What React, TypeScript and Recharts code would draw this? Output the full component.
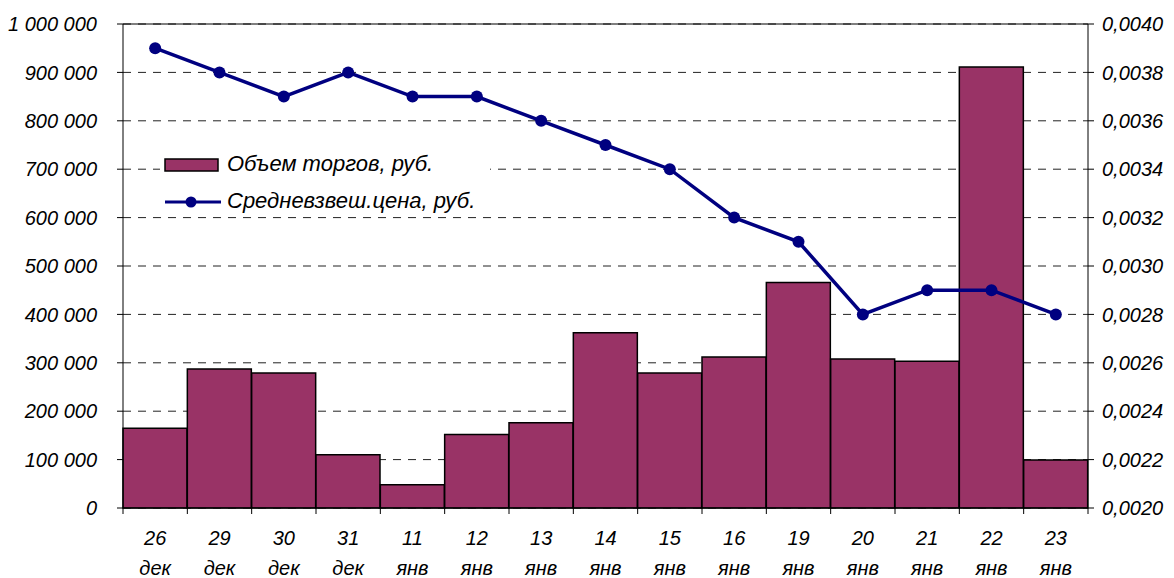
import React from 'react';
import {
  ComposedChart, Bar, Line, XAxis, YAxis, CartesianGrid, Legend, ReferenceLine,
} from 'recharts';

const days = ['26', '29', '30', '31', '11', '12', '13', '14', '15', '16', '19', '20', '21', '22', '23'];
const months = ['дек', 'дек', 'дек', 'дек', 'янв', 'янв', 'янв', 'янв', 'янв', 'янв', 'янв', 'янв', 'янв', 'янв', 'янв'];
const volume = [165000, 287000, 279000, 110000, 48000, 152000, 176000, 362000, 279000, 312000, 466000, 308000, 303000, 911000, 99000];
const price = [0.0039, 0.0038, 0.0037, 0.0038, 0.0037, 0.0037, 0.0036, 0.0035, 0.0034, 0.0032, 0.0031, 0.0028, 0.0029, 0.0029, 0.0028];
const leftTicks = [0, 100000, 200000, 300000, 400000, 500000, 600000, 700000, 800000, 900000, 1000000];
const rightTicks = [0.002, 0.0022, 0.0024, 0.0026, 0.0028, 0.003, 0.0032, 0.0034, 0.0036, 0.0038, 0.004];
const volumeName = 'Объем торгов, руб.';
const priceName = 'Средневзвеш.цена, руб.';

const data = days.map((d, i) => ({ label: d + '|' + months[i], volume: volume[i], price: price[i] }));

const FONT = '"Liberation Sans", Arial, sans-serif';
const FS = 20;
const LFS = 22;
const BAR_COLOR = '#993366';
const LINE_COLOR = '#000080';

const fmtLeft = (v: number) => String(Math.round(v)).replace(/\B(?=(\d{3})+(?!\d))/g, ' ');
const fmtRight = (v: number) => v.toFixed(4).replace('.', ',');

const XTick = (props: any) => {
  const { x, y, payload, index } = props;
  const half = payload && payload.offset ? payload.offset : 32.15;
  const [d, m] = String(payload.value).split('|');
  const last = index === days.length - 1;
  return (
    <g>
      <line x1={x - half} x2={x - half} y1={y - 6} y2={y} stroke="#000" strokeWidth={1} />
      {last && <line x1={x + half} x2={x + half} y1={y - 6} y2={y} stroke="#000" strokeWidth={1} />}
      <text x={x} y={y + 31} textAnchor="middle" fontSize={FS} fontStyle="italic" fontFamily={FONT} fill="#000">{d}</text>
      <text x={x} y={y + 61} textAnchor="middle" fontSize={FS} fontStyle="italic" fontFamily={FONT} fill="#000">{m}</text>
    </g>
  );
};

const renderLegend = () => (
  <div style={{ background: '#fff', width: 330, height: 76, position: 'relative' }}>
    <svg width={330} height={76} style={{ display: 'block' }}>
      <rect x={5} y={19} width={53} height={12} fill={BAR_COLOR} stroke="#000" strokeWidth={1.5} />
      <text x={67} y={31} fontSize={LFS} fontStyle="italic" fontFamily={FONT} fill="#000">{volumeName}</text>
      <line x1={5} x2={61} y1={62} y2={62} stroke={LINE_COLOR} strokeWidth={3} />
      <circle cx={31} cy={62} r={5.5} fill={LINE_COLOR} />
      <text x={67} y={68} fontSize={LFS} fontStyle="italic" fontFamily={FONT} fill="#000">{priceName}</text>
    </svg>
  </div>
);

export default function App() {
  return (
    <div style={{ position: 'absolute', left: 0, top: 0, background: '#fff' }}>
      <ComposedChart
        width={1174}
        height={578}
        data={data}
        margin={{ top: 24, right: 0, left: 0, bottom: 0 }}
        barCategoryGap={0}
      >
        <CartesianGrid yAxisId="left" vertical={false} stroke="#222" strokeDasharray="8 7" />
        <XAxis
          dataKey="label"
          interval={0}
          axisLine={{ stroke: '#000', strokeWidth: 1 }}
          tickLine={false}
          tickSize={6}
          tickMargin={0}
          height={70}
          tick={<XTick />}
        />
        <YAxis
          yAxisId="left"
          orientation="left"
          width={123}
          domain={[0, 1000000]}
          ticks={leftTicks}
          tickFormatter={fmtLeft}
          axisLine={{ stroke: '#000' }}
          tickLine={{ stroke: '#000' }}
          tickSize={6}
          tickMargin={20}
          tick={{ fontSize: FS, fontStyle: 'italic', fontFamily: FONT, fill: '#000' }}
          interval={0}
        />
        <YAxis
          yAxisId="right"
          orientation="right"
          width={86}
          domain={[0.002, 0.004]}
          ticks={rightTicks}
          tickFormatter={fmtRight}
          axisLine={{ stroke: '#000' }}
          tickLine={{ stroke: '#000' }}
          tickSize={6}
          tickMargin={8}
          tick={{ fontSize: FS, fontStyle: 'italic', fontFamily: FONT, fill: '#000', textAnchor: 'start' }}
          interval={0}
        />
        <ReferenceLine yAxisId="left" y={1000000} stroke="#000" strokeWidth={1} />
        <Bar yAxisId="left" dataKey="volume" name={volumeName} fill={BAR_COLOR} stroke="#000" strokeWidth={1.5} isAnimationActive={false} />
        <Line
          yAxisId="right"
          dataKey="price"
          name={priceName}
          stroke={LINE_COLOR}
          strokeWidth={3.5}
          dot={{ r: 6, fill: LINE_COLOR, stroke: LINE_COLOR, strokeWidth: 0 }}
          activeDot={false}
          isAnimationActive={false}
        />
        <Legend
          layout="horizontal"
          verticalAlign="middle"
          align="center"
          content={renderLegend}
          wrapperStyle={{ position: 'absolute', left: 160, top: 140, width: 330, height: 76 }}
        />
      </ComposedChart>
    </div>
  );
}
